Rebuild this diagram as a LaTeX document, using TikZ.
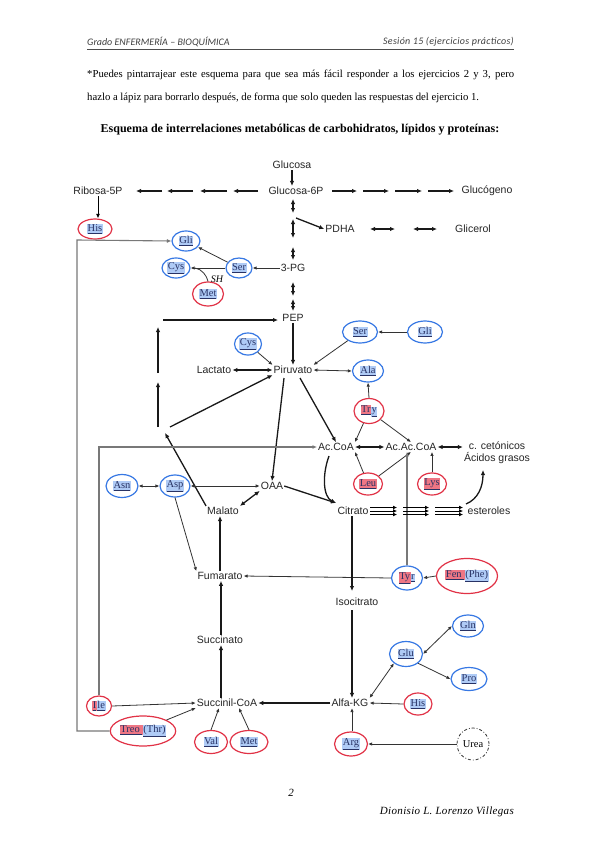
\documentclass[tikz,border=0pt]{standalone}
\usepackage{fontspec}
\setmainfont{Liberation Serif}
\newfontfamily\arialf{Liberation Sans}
\newfontfamily\calibf{Carlito}
\usetikzlibrary{arrows.meta,shapes.geometric,calc}
\definecolor{cblue}{RGB}{55,120,228}
\definecolor{cred}{RGB}{225,50,70}
\definecolor{hlb}{RGB}{175,203,246}
\definecolor{hlr}{RGB}{238,118,132}
\definecolor{aatext}{RGB}{40,50,100}
\definecolor{framec}{RGB}{120,120,120}
\newcommand{\hlB}[1]{{\setlength{\fboxsep}{0.5pt}\colorbox{hlb}{\underline{#1}}}}
\newcommand{\hlR}[1]{{\setlength{\fboxsep}{0.5pt}\colorbox{hlr}{\underline{#1}}}}
\tikzset{
  met/.style={font=\arialf\fontsize{10.5}{12}\selectfont, text=black!85, inner sep=1pt},
  aab/.style={ellipse, draw=cblue, line width=1.2pt, inner sep=0pt, font=\fontsize{10.5}{12}\selectfont, text=aatext},
  aar/.style={aab, draw=cred},
  ar/.style={-{Latex[length=5pt,width=4.5pt]}, line width=1.3pt, draw=black!90},
  dar/.style={{Latex[length=5pt,width=4.5pt]}-{Latex[length=5pt,width=4.5pt]}, line width=1.3pt, draw=black!90},
  tarr/.style={-{Latex[length=4pt,width=3.5pt]}, line width=0.8pt, draw=black!80},
  dtarr/.style={{Latex[length=4pt,width=3.5pt]}-{Latex[length=4pt,width=3.5pt]}, line width=0.8pt, draw=black!80},
  greyl/.style={draw=framec, line width=1.1pt},
}
\begin{document}
\begin{tikzpicture}[x=1pt,y=-1pt]
\useasboundingbox[fill=white] (0,0) rectangle (599,848);

% header
\node[anchor=west, font=\calibf\itshape\fontsize{10}{12}\selectfont, text=black!75, inner sep=0pt] (h1) at (87,42) {Grado ENFERMERÍA – BIOQUÍMICA};
\node[anchor=east, font=\calibf\itshape\fontsize{10}{12}\selectfont\addfontfeature{LetterSpace=3}, text=black!75, inner sep=0pt] (h2) at (514,42) {Sesión 15 (ejercicios prácticos)};
\coordinate (hl1) at (87,49);
\coordinate (hl2) at (514,49);
\draw[line width=0.6pt, black!70] (hl1) -- (hl2);

\node[anchor=west, inner sep=0pt, font=\fontsize{10.7}{13}\selectfont] (p1) at (87,75) {\makebox[427pt][s]{*Puedes pintarrajear este esquema para que sea más fácil responder a los ejercicios 2 y 3, pero}};
\node[anchor=west, inner sep=0pt, font=\fontsize{10.7}{13}\selectfont] (p2) at (87,98) {hazlo a lápiz para borrarlo después, de forma que solo queden las respuestas del ejercicio 1.};
\node[inner sep=0pt, font=\bfseries\fontsize{12}{14}\selectfont] (title) at (300,130) {Esquema de interrelaciones metabólicas de carbohidratos, lípidos y proteínas:};

% metabolites
\node[met] (glc) at (292,165) {Glucosa};
\node[met] (g6p) at (296,191) {Glucosa-6P};
\node[met] (r5p) at (98,191) {Ribosa-5P};
\node[met] (glg) at (487,191) {Glucógeno};
\node[met] (pdha) at (340,229) {PDHA};
\node[met] (glic) at (473,229) {Glicerol};
\node[met] (pg3) at (293,268) {3-PG};
\node[met] (pep) at (293,318) {PEP};
\node[met] (pir) at (293,370) {Piruvato};
\node[met] (lac) at (214,370) {Lactato};
\node[met] (acoa) at (336,447) {Ac.CoA};
\node[met] (aacoa) at (411,447) {Ac.Ac.CoA};
\node[met, align=center] (cet) at (497,453) {c. cetónicos\\Ácidos grasos};
\node[met] (oaa) at (272,486) {OAA};
\node[met] (mal) at (223,511) {Malato};
\node[met] (cit) at (353,511) {Citrato};
\node[met] (est) at (489,511) {esteroles};
\node[met] (fum) at (220,576) {Fumarato};
\node[met] (iso) at (357,602) {Isocitrato};
\node[met] (akg) at (350,703) {Alfa-KG};
\node[met] (suc) at (220,640) {Succinato};
\node[met] (scoa) at (227,703) {Succinil-CoA};

% amino acids
\node[aar, minimum width=34pt, minimum height=20pt] (his1) at (95,229) {\hlB{His}};
\node[aab, minimum width=28pt, minimum height=20pt] (gli1) at (186,241) {\hlB{Gli}};
\node[aab, minimum width=28pt, minimum height=20pt] (cys1) at (176,268) {\hlB{Cys}};
\node[aab, minimum width=26pt, minimum height=20pt] (ser1) at (239,268) {\hlB{Ser}};
\node[aar, minimum width=31pt, minimum height=24pt] (met1) at (208,294) {\hlB{Met}};
\node[aab, minimum width=27pt, minimum height=22pt] (cys2) at (248,344) {\hlB{Cys}};
\node[aab, minimum width=35pt, minimum height=22pt] (ser2) at (360,332) {\hlB{Ser}};
\node[aab, minimum width=35pt, minimum height=22pt] (gli2) at (425,332) {\hlB{Gli}};
\node[aab, minimum width=31pt, minimum height=22pt] (ala) at (368,371) {\hlB{Ala}};
\node[aar, minimum width=30pt, minimum height=25pt] (try) at (369,411) {\hlR{Tr}\hlB{y}};
\node[aar, minimum width=29pt, minimum height=22pt] (leu) at (368,484) {\hlR{Leu}};
\node[aar, minimum width=29pt, minimum height=22pt] (lys) at (432,484) {\hlR{Lys}};
\node[aab, minimum width=32pt, minimum height=23pt] (asn) at (122,486) {\hlB{Asn}};
\node[aab, minimum width=30pt, minimum height=22pt] (asp) at (175,486) {\hlB{Asp}};
\node[aab, minimum width=31pt, minimum height=24pt] (tyr) at (407,578) {\hlR{Ty}\hlB{r}};
\node[aar, minimum width=61pt, minimum height=35pt] (fen) at (467,576) {\hlR{Fen }\hlB{(Phe)}};
\node[aab, minimum width=33pt, minimum height=25pt] (glu) at (406,654) {\hlB{Glu}};
\node[aab, minimum width=31pt, minimum height=22pt] (gln) at (468,626) {\hlB{Gln}};
\node[aab, minimum width=36pt, minimum height=23pt] (pro) at (469,679) {\hlB{Pro}};
\node[aar, minimum width=28pt, minimum height=22pt] (his2) at (418,704) {\hlB{His}};
\node[aar, minimum width=33pt, minimum height=24pt] (arg) at (351,744) {\hlB{Arg}};
\node[circle, draw=black!80, line width=0.8pt, dash dot, minimum size=32pt, inner sep=0pt, font=\fontsize{10.5}{12}\selectfont] (urea) at (473,744) {Urea};
\node[aar, minimum width=25pt, minimum height=20pt] (ile) at (99,706) {\hlR{I}\hlB{le}};
\node[aar, minimum width=57pt, minimum height=30pt] (treo) at (143,731) {\hlR{Treo }\hlB{(Thr)}};
\node[aar, minimum width=33pt, minimum height=23pt] (val) at (211,742) {\hlB{Val}};
\node[aar, minimum width=38pt, minimum height=23pt] (met2) at (249,742) {\hlB{Met}};
\node[font=\itshape\fontsize{10}{11}\selectfont, inner sep=0pt] (sh) at (217,279) {SH};

% ---- top column
\draw[ar] (glc.south) -- (glc.south |- g6p.north);
\foreach \a/\b in {258/233, 227/200, 193/167, 162/136} \draw[ar] (\a,191) -- (\b,191);
\foreach \a/\b in {332/357, 363/389, 395/422, 428/454} \draw[ar] (\a,191) -- (\b,191);
\foreach \a/\b in {199/213, 219/238, 247/260, 282/296, 299/311} \draw[dar] (293,\a) -- (293,\b);
\coordinate (br) at (296,218);
\draw[ar] (br) -- (pdha.west);
\foreach \a/\b in {370/395, 413/437} \draw[dar] (\a,229) -- (\b,229);

% 3-PG branch
\draw[tarr] (pg3.west) -- (ser1.east);
\draw[tarr] (ser1) -- (gli1);
\draw[tarr] (ser1.west) -- (cys1.east);
\coordinate (shj) at (195,268);
\draw[line width=0.8pt, black!80] (met1.north) .. controls (207,276) and (202,269) .. (shj);

% PEP / pyruvate
\draw[ar] (pep.south) -- (pir.north);
\draw[dar] (lac.east) -- (pir.west);
\draw[tarr] (cys2) -- (pir.north west);
\draw[tarr] (ser2) -- (pir.north east);
\draw[tarr] (gli2.west) -- (ser2.east);
\draw[dtarr] (pir.east) -- (ala.west);
\draw[tarr] (try.north) -- (ala.south);
\draw[tarr] (try) -- (acoa.north east);
\draw[tarr] (try) -- (aacoa.north);
\draw[dar] (acoa.east) -- (aacoa.west);
\draw[dar] (aacoa.east) -- ($(cet.west)+(0,-6)$);
\draw[tarr] (leu) -- (acoa.south east);
\draw[tarr] (leu) -- (aacoa.south);
\draw[tarr] (lys.north) -- (lys.north |- aacoa.south);

\coordinate (pirb1) at (284,378);
\coordinate (pirb2) at (300,378);
\draw[ar] (pirb1) -- (oaa.north);
\draw[ar] (pirb2) -- (acoa.north);
\coordinate (acb) at (329,456);
\coordinate (cti) at (336,503);
\draw[ar] (acb) .. controls (322,475) and (323,497) .. (cti);
\draw[ar] (oaa.east) -- (cti);
\draw[dar] (oaa.south west) -- (mal.north east);

% left loop
\coordinate (j1) at (165,433);
\coordinate (j2) at (170,427);
\coordinate (v1) at (158,427);
\coordinate (v2) at (158,382);
\coordinate (v3) at (158,373);
\coordinate (v4) at (158,327);
\coordinate (h0) at (163,320);
\coordinate (pepw) at (278,320);
\draw[ar] (mal.north west) -- (j1);
\draw[ar] (j2) -- (pir.south west);
\draw[ar] (v1) -- (v2);
\draw[ar] (v3) -- (v4);
\draw[ar] (h0) -- (pepw);

% grey frames
\coordinate (oc) at (77,240);
\draw[greyl, -{Latex[length=4.5pt,width=4pt]}] (treo.west) -| (oc) -- (gli1.west);
\draw[greyl, -{Latex[length=4.5pt,width=4pt]}] (ile.north) |- (acoa.west);
\draw[-{Latex[length=4.5pt,width=4pt]}, line width=1pt] (r5p.south) -- (r5p.south |- his1.north);

% Asp / Asn
\draw[dtarr] (asp.west) -- (asn.east);
\draw[dtarr] (asp.east) -- (oaa.west);
\draw[tarr] (asp.south) -- (fum.north west);
\draw[ar] (fum.north) -- (fum.north |- mal.south);
\draw[tarr] (tyr.west) -- (fum.east);
\draw[tarr] (fen.west) -- (tyr.east);
\draw[greyl, -{Latex[length=4.5pt,width=4pt]}] (tyr.north) -- (tyr.north |- aacoa.south);

% steroles
\coordinate (este) at (466,504);
\coordinate (agr) at (483,470);
\draw[ar] (este) .. controls (478,499) and (483,487) .. (agr);
\foreach \a/\b in {370/397, 403/429, 435/463}
  \foreach \yy in {507.5, 511, 514.5}
    \draw[-{Latex[length=4pt,width=4pt]}, line width=0.9pt] (\a,\yy) -- (\b,\yy);

% Krebs
\draw[ar] (cit.south -| 352,0) -- (352,591);
\draw[ar] (352,610) -- (akg.north -| 352,0);
\draw[ar] (akg.west) -- (scoa.east);
\draw[ar] (scoa.north -| 221,0) -- (suc.south -| 221,0);
\draw[ar] (suc.north -| 221,0) -- (fum.south -| 221,0);
\draw[tarr] (ile.east) -- (scoa.west);
\draw[tarr] (treo.north east) -- (scoa.south west);
\draw[tarr] (val.north) -- ($(scoa.south)+(-8,0)$);
\draw[tarr] (met2.north) -- ($(scoa.south)+(12,0)$);
\draw[dtarr] (glu.east) -- (gln.west);
\draw[tarr] (glu.south east) -- (pro.west);
\draw[dtarr] (glu.south west) -- (akg.north east);
\draw[tarr] (his2.west) -- (akg.east);
\draw[tarr] (arg.north -| 352,0) -- (akg.south -| 352,0);
\draw[tarr] (urea.west) -- (arg.east);

% footer
\node[font=\itshape\fontsize{11}{13}\selectfont, inner sep=0pt] (pg) at (291,793) {2};
\node[anchor=east, font=\itshape\fontsize{11}{13}\selectfont\addfontfeature{LetterSpace=3}, inner sep=0pt] (auth) at (514,812) {Dionisio L. Lorenzo Villegas};
\end{tikzpicture}
\end{document}
